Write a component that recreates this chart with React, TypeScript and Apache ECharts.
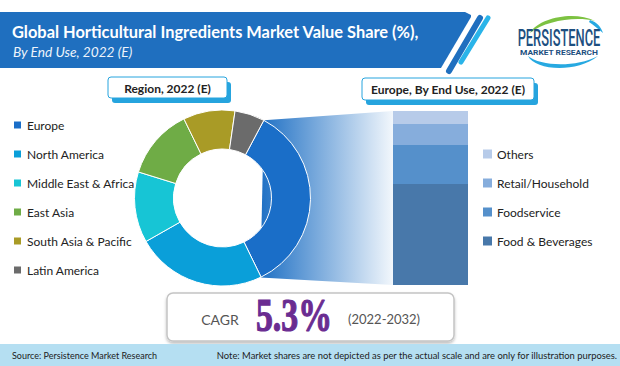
import React, { useEffect, useRef } from "react";
import * as echarts from "echarts";

const titleText = "Global Horticultural Ingredients Market Value Share (%),";
const subtitleText = "By End Use, 2022 (E)";
const regionBoxText = "Region, 2022 (E)";
const europeBoxText = "Europe, By End Use, 2022 (E)";
const sourceText = "Source: Persistence Market Research";
const noteText = "Note: Market shares are not depicted as per the actual scale and are only for illustration purposes.";
const cagrLabel = "CAGR";
const cagrValue = "5.3%";
const cagrPeriod = "(2022-2032)";

const regionNames = ["Europe", "North America", "Middle East & Africa", "East Asia", "South Asia & Pacific", "Latin America"];
const regionShares = [35, 24, 13, 13, 9.5, 5.5];
const regionColors = ["#1a6ec8", "#0a9fd9", "#17c5d5", "#6fac46", "#a99b26", "#6b6b6b"];

const endUseNames = ["Food & Beverages", "Foodservice", "Retail/Household", "Others"];
const endUseShares = [58, 22.5, 12, 7.5];
const endUseColors = ["#4878aa", "#5590cb", "#86addc", "#b7cbe9"];

const greenSwoosh = "M530,33 C540,17 575,11 595,21 C575,16 545,21 530,33 Z";
const blueTip = "M590,20 C597,22 601,27 603,33 C598,29 594,25 589,22 Z";
const blueSwoosh = "M528,56 C535,70 575,74 598,56 C575,68 540,66 528,56 Z";

let registered = false;
function registerShapes() {
  if (registered) return;
  registered = true;
  echarts.graphic.registerShape("greenSwoosh", echarts.graphic.extendPath(greenSwoosh, {}));
  echarts.graphic.registerShape("blueTip", echarts.graphic.extendPath(blueTip, {}));
  echarts.graphic.registerShape("blueSwoosh", echarts.graphic.extendPath(blueSwoosh, {}));
}

const LATO = "Lato, 'Open Sans', sans-serif";

function labelBox(x: number, y: number, w: number, h: number, text: string) {
  return [
    { type: "rect", shape: { x: x + 4, y: y + 5, width: w, height: h, r: 3 }, style: { fill: "#26a4de" } },
    { type: "rect", shape: { x, y, width: w, height: h, r: 3 }, style: { fill: "#ffffff", stroke: "#26a4de", lineWidth: 1 } },
    {
      type: "text",
      x: x + w / 2,
      y: y + h / 2 + 0.5,
      style: { text, fill: "#222222", font: `bold 12px ${LATO}`, align: "center", verticalAlign: "middle" },
    },
  ];
}

export default function App() {
  const ref = useRef<HTMLDivElement>(null);
  useEffect(() => {
    document.body.style.margin = "0";
    registerShapes();
    const chart = echarts.init(ref.current!, null, { renderer: "svg" });
    const cx = 222.5, cy = 198, rOut = 88, rIn = 49;
    const a1 = (28 * Math.PI) / 180, a2 = (154.5 * Math.PI) / 180;
    const p1 = [cx + rOut * Math.sin(a1), cy - rOut * Math.cos(a1)];
    const p2 = [cx + rOut * Math.sin(a2), cy - rOut * Math.cos(a2)];

    const legendBase = {
      orient: "vertical",
      padding: 0,
      itemWidth: 9,
      itemHeight: 9,
      itemGap: 17,
      icon: "rect",
      selectedMode: false,
      textStyle: { fontFamily: LATO, fontSize: 12, color: "#222" },
    };

    const option: any = {
      animation: false,
      backgroundColor: "#ffffff",
      legend: [
        { ...legendBase, left: 12, top: 119, data: regionNames },
        { ...legendBase, left: 483, top: 148, data: [...endUseNames].reverse() },
      ],
      grid: { left: 393, top: 111, width: 75, height: 174 },
      xAxis: { type: "category", data: ["Europe"], show: false },
      yAxis: { type: "value", min: 0, max: 100, show: false },
      series: [
        {
          type: "pie",
          z: 3,
          center: [cx, cy],
          radius: [rIn, rOut],
          startAngle: 62,
          clockwise: true,
          label: { show: false },
          labelLine: { show: false },
          emphasis: { disabled: true },
          itemStyle: { borderColor: "#ffffff", borderWidth: 1 },
          data: regionNames.map((n, i) => ({ name: n, value: regionShares[i], itemStyle: { color: regionColors[i] } })),
        },
        ...endUseNames.map((n, i) => ({
          type: "bar",
          name: n,
          stack: "eu",
          barWidth: "100%",
          emphasis: { disabled: true },
          itemStyle: { color: endUseColors[i] },
          data: [endUseShares[i]],
        })),
      ],
      graphic: [
        // header banner
        {
          type: "polygon",
          shape: { points: [[0, 12], [465, 12], [471, 15], [471, 17], [441, 68], [0, 68]] },
          style: { fill: "#1f6fbf" },
        },
        { type: "line", shape: { x1: 449, y1: 71, x2: 480, y2: 18 }, style: { stroke: "#1f6fbf", lineWidth: 6, lineCap: "round" } },
        { type: "line", shape: { x1: 461, y1: 62, x2: 488, y2: 18 }, style: { stroke: "#2ab4e9", lineWidth: 5, lineCap: "round" } },
        {
          type: "text",
          x: 12,
          y: 31,
          style: { text: titleText, fill: "#ffffff", font: `bold 16.4px ${LATO}`, verticalAlign: "middle" },
        },
        {
          type: "text",
          x: 13,
          y: 51,
          style: { text: subtitleText, fill: "#eef4fb", font: `italic 13.7px ${LATO}`, verticalAlign: "middle" },
        },
        // logo
        { type: "greenSwoosh", x: 0, y: 0, style: { fill: "#7dc242" } },
        { type: "blueTip", x: 0, y: 0, style: { fill: "#27a9e1" } },
        { type: "blueSwoosh", x: 0, y: 0, style: { fill: "#27a9e1" } },
        {
          type: "text",
          x: 559,
          y: 39,
          scaleX: 0.56,
          style: { text: "PERSISTENCE", fill: "#1d4f80", font: "500 23px Roboto", align: "center", verticalAlign: "middle" },
        },
        {
          type: "text",
          x: 559,
          y: 53,
          scaleX: 1.12,
          style: { text: "MARKET RESEARCH", fill: "#1d4f80", font: "bold 7.5px Roboto", align: "center", verticalAlign: "middle" },
        },
        // label boxes
        ...labelBox(108, 77, 119, 21, regionBoxText),
        ...labelBox(362, 78, 172, 22, europeBoxText),
        // funnel gradient
        {
          type: "polygon",
          z: 0,
          shape: { points: [p1, [393, 111], [393, 285], p2] },
          style: {
            fill: new echarts.graphic.LinearGradient(0, 0, 1, 0, [
              { offset: 0, color: "#1f70c4" },
              { offset: 1, color: "#f2f7fc" },
            ]),
          },
        },
        // CAGR box
        {
          type: "rect",
          shape: { x: 167, y: 293, width: 287, height: 48, r: 6 },
          style: {
            fill: "#ffffff",
            stroke: "#c4c4c4",
            lineWidth: 1.5,
            shadowBlur: 3,
            shadowOffsetY: 2,
            shadowColor: "rgba(0,0,0,0.25)",
          },
        },
        {
          type: "text",
          x: 220,
          y: 319,
          style: { text: cagrLabel, fill: "#555555", font: `14px ${LATO}`, align: "center", verticalAlign: "middle" },
        },
        {
          type: "text",
          x: 294,
          y: 316,
          scaleX: 0.72,
          style: {
            text: cagrValue,
            fill: "#6a2c91",
            stroke: "#6a2c91",
            lineWidth: 1.2,
            font: "bold 47px 'Liberation Serif'",
            align: "center",
            verticalAlign: "middle",
          },
        },
        {
          type: "text",
          x: 348,
          y: 319,
          style: { text: cagrPeriod, fill: "#555555", font: `13px ${LATO}`, verticalAlign: "middle" },
        },
        // footer
        { type: "rect", shape: { x: 0, y: 344, width: 620, height: 22 }, style: { fill: "#b5dff2" } },
        {
          type: "text",
          x: 12,
          y: 355,
          style: { text: sourceText, fill: "#222222", font: `9px ${LATO}`, verticalAlign: "middle" },
        },
        {
          type: "text",
          x: 617,
          y: 355,
          style: { text: noteText, fill: "#222222", font: `9.4px ${LATO}`, align: "right", verticalAlign: "middle" },
        },
      ],
    };
    chart.setOption(option);
    return () => chart.dispose();
  }, []);
  return <div ref={ref} style={{ width: 620, height: 366 }} />;
}
